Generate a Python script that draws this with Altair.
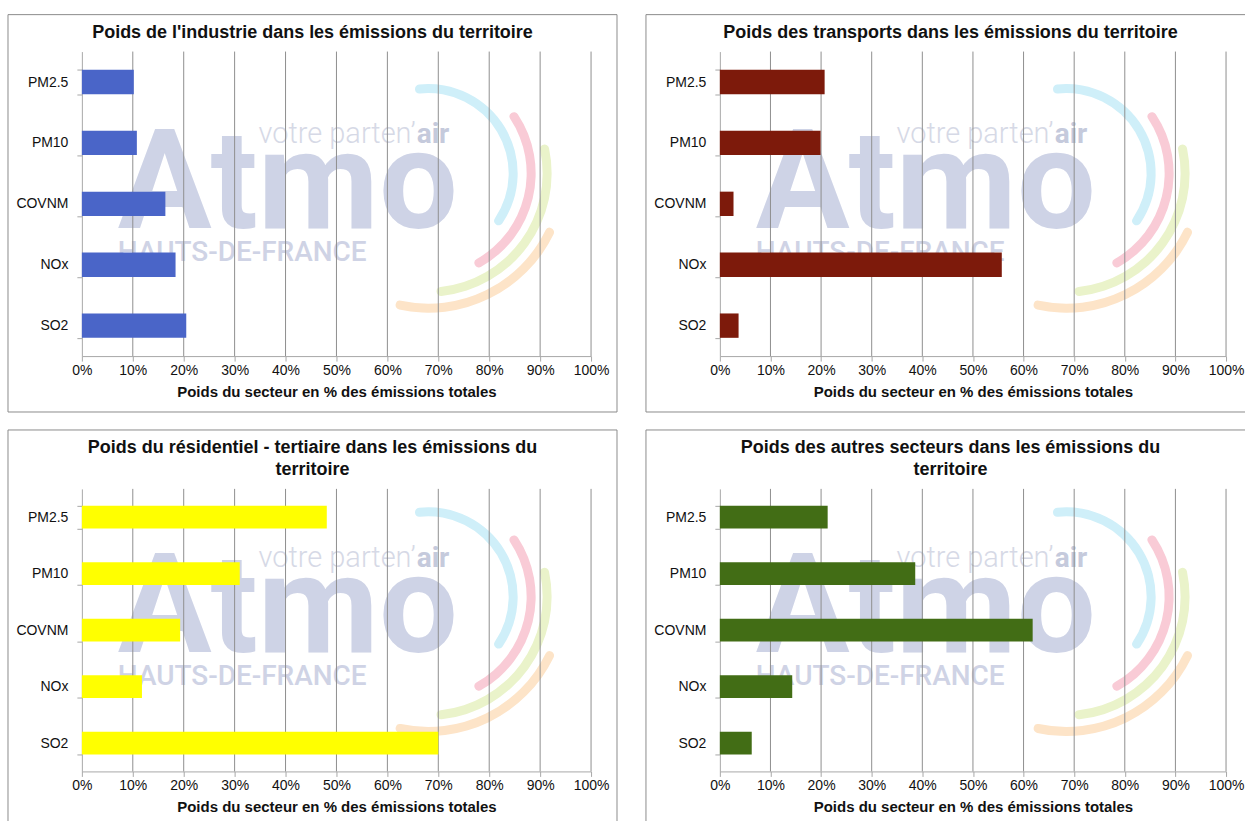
import altair as alt
import pandas as pd

# Share of each sector in the territory's emissions (% of total), per pollutant
pollutants = ["PM2.5", "PM10", "COVNM", "NOx", "SO2"]
industrie = [10.2, 10.8, 16.4, 18.4, 20.5]
transports = [20.7, 19.9, 2.7, 55.7, 3.7]
residentiel = [48.1, 31.0, 19.3, 11.8, 70.0]
autres = [21.3, 38.6, 61.8, 14.3, 6.3]

x_ticks = [0, 10, 20, 30, 40, 50, 60, 70, 80, 90, 100]
x_title = "Poids du secteur en % des émissions totales"

titles = [
    ["Poids de l'industrie dans les émissions du territoire"],
    ["Poids des transports dans les émissions du territoire"],
    ["Poids du résidentiel - tertiaire dans les émissions du", "territoire"],
    ["Poids des autres secteurs dans les émissions du", "territoire"],
]
colors = ["#4a65c8", "#7d1a0b", "#ffff00", "#426d15"]

FONT = "Liberation Sans"
GRID = "#8f8f8f"
AXIS = "#a8a8a8"
FRAME = "#8c8c8c"

# watermark arcs: colour, mid radius, start / end angle (degrees, clockwise from 12 o'clock)
arc_specs = [
    ("#cfeff9", 85, 351, 487),
    ("#f9cbd6", 103, 54, 153),
    ("#eaf3ca", 119, 76, 176),
    ("#fde4c8", 135, 114, 194),
]

one = alt.Data(values=[{"k": 1}])


def deg(a):
    return a * 3.141592653589793 / 180.0


def x_axis():
    return alt.Axis(values=x_ticks, labelExpr="datum.value + '%'", title=x_title,
                    grid=False, domainColor=AXIS, tickColor=AXIS, tickSize=5,
                    labelFont=FONT, labelFontSize=14, labelColor="#111111",
                    labelPadding=2, labelFlush=False, labelOverlap=False,
                    titleFont=FONT, titleFontSize=15, titleFontWeight="bold",
                    titleColor="#111111", titlePadding=7)


def panel(values, color, title_lines, plot_w, plot_h, box_top, box_w, box_h,
          right_side, bottom_side, wm_dy):
    data = pd.DataFrame({"polluant": pollutants, "part": values})
    grid = pd.DataFrame({"part": x_ticks[1:]})
    x_scale = alt.Scale(domain=[0, 100], nice=False, zero=True)
    y_scale = alt.Scale(paddingInner=0.6, paddingOuter=0.3)

    layers = []

    # frame around the chart
    bl = -74
    layers.append(alt.Chart(one).mark_rule(color=FRAME, strokeWidth=1).encode(
        x=alt.value(bl), x2=alt.value(bl + box_w), y=alt.value(box_top)))
    layers.append(alt.Chart(one).mark_rule(color=FRAME, strokeWidth=1).encode(
        x=alt.value(bl), y=alt.value(box_top), y2=alt.value(box_top + box_h)))
    if right_side:
        layers.append(alt.Chart(one).mark_rule(color=FRAME, strokeWidth=1).encode(
            x=alt.value(bl + box_w), y=alt.value(box_top), y2=alt.value(box_top + box_h)))
    if bottom_side:
        layers.append(alt.Chart(one).mark_rule(color=FRAME, strokeWidth=1).encode(
            x=alt.value(bl), x2=alt.value(bl + box_w), y=alt.value(box_top + box_h)))

    # watermark logo
    cx, cy = 347, 122 + wm_dy
    for c, r, a0, a1 in arc_specs:
        layers.append(alt.Chart(one).mark_arc(
            radius=r + 4.5, radius2=r - 4.5, theta=deg(a0), theta2=deg(a1),
            cornerRadius=4.5, color=c).encode(x=alt.value(cx), y=alt.value(cy)))
    layers.append(alt.Chart(one).mark_text(
        text="Atmo", font="Roboto", fontSize=140, fontWeight=700, color="#ced3e6",
        align="left", baseline="alphabetic").encode(x=alt.value(36), y=alt.value(177 + wm_dy)))
    layers.append(alt.Chart(one).mark_text(
        text="HAUTS-DE-FRANCE", font="Roboto", fontSize=28, fontWeight=500, color="#cfd3e5",
        align="left", baseline="alphabetic").encode(x=alt.value(36), y=alt.value(210 + wm_dy)))
    layers.append(alt.Chart(one).mark_text(
        text="votre parten\u2019", font="Roboto", fontSize=29, fontWeight=300, color="#d6d9e6",
        align="left", baseline="alphabetic").encode(x=alt.value(177), y=alt.value(92 + wm_dy)))
    layers.append(alt.Chart(one).mark_text(
        text="air", font="Roboto", fontSize=28, fontWeight=700, color="#c5cadc",
        align="right", baseline="alphabetic").encode(x=alt.value(368), y=alt.value(92 + wm_dy)))

    # vertical grid lines
    layers.append(alt.Chart(grid).mark_rule(color=GRID, strokeWidth=1).encode(
        x=alt.X("part:Q", scale=x_scale, axis=x_axis())))

    # bars
    layers.append(alt.Chart(data).mark_bar(color=color).encode(
        x=alt.X("part:Q", scale=x_scale, axis=x_axis()),
        y=alt.Y("polluant:N", sort=pollutants, scale=y_scale,
                axis=alt.Axis(title=None, tickBand="extent", ticks=True, tickSize=5,
                              tickColor=AXIS, domainColor=AXIS, grid=False,
                              labelFont=FONT, labelFontSize=14, labelColor="#111111",
                              labelPadding=9)),
    ))

    # chart title
    n = len(title_lines)
    for i, line in enumerate(title_lines):
        ty = -19 - 22 * (n - 1 - i)
        layers.append(alt.Chart(one).mark_text(
            text=line, font=FONT, fontSize=18, fontWeight="bold", color="#111111",
            align="center", baseline="middle").encode(x=alt.value(231), y=alt.value(ty)))

    return alt.layer(*layers).properties(width=plot_w, height=plot_h)


p1 = panel(industrie, colors[0], titles[0], 510, 305, -37, 610, 398, True, True, 0)
p2 = panel(transports, colors[1], titles[1], 507, 305, -37, 600, 398, False, True, 0)
p3 = panel(residentiel, colors[2], titles[2], 510, 283, -59, 610, 392, True, False, -14)
p4 = panel(autres, colors[3], titles[3], 507, 283, -59, 600, 392, False, False, -14)

chart = alt.vconcat(
    alt.hconcat(p1, p2, spacing=27),
    alt.hconcat(p3, p4, spacing=27),
    spacing=16,
).properties(
    padding={"left": 7, "top": 13, "right": 0, "bottom": 0},
    background="white",
).configure_view(stroke=None)

chart.save("out.html", embed_options={"renderer": "svg", "actions": False})
